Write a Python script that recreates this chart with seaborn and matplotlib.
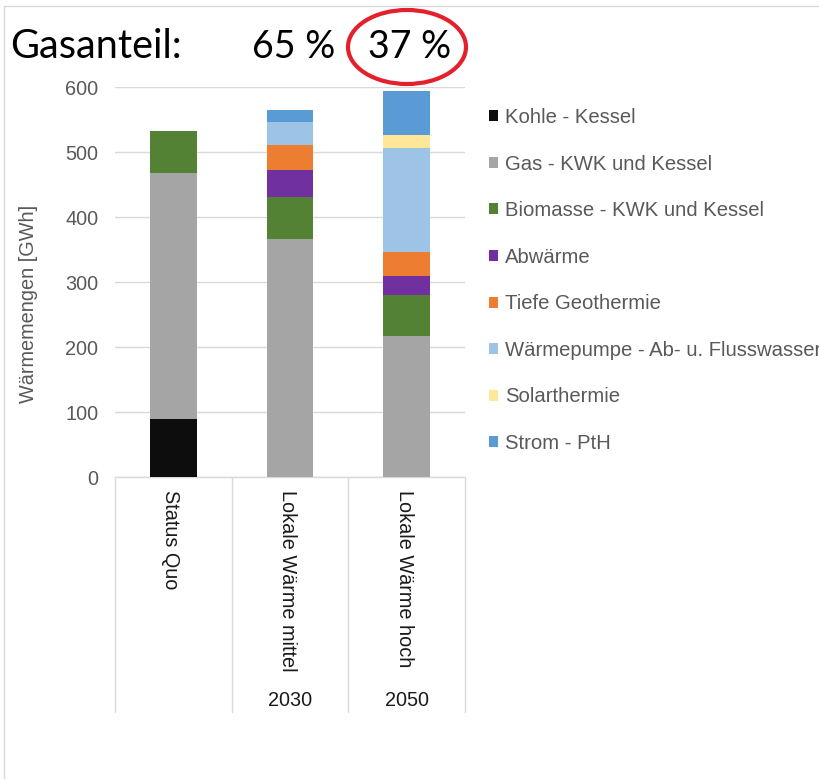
import matplotlib
matplotlib.use("Agg")
import matplotlib.pyplot as plt
import seaborn as sns
import pandas as pd
import numpy as np
from matplotlib.patches import Patch, Ellipse
from matplotlib.lines import Line2D
from matplotlib.transforms import blended_transform_factory

# ---------------- data ----------------
categories = ["Status Quo", "Lokale Wärme mittel", "Lokale Wärme hoch"]
years = ["", "2030", "2050"]
series_names = ["Kohle - Kessel", "Gas - KWK und Kessel", "Biomasse - KWK und Kessel",
                "Abwärme", "Tiefe Geothermie", "Wärmepumpe - Ab- u. Flusswasser",
                "Solarthermie", "Strom - PtH"]
kohle = [90, 0, 0]
gas = [378, 366, 217]
biomasse = [65, 66, 64]
abwaerme = [0, 41, 28]
geothermie = [0, 39, 37]
waermepumpe = [0, 35, 160]
solarthermie = [0, 0, 21]
strom = [0, 18, 67]
series_values = [kohle, gas, biomasse, abwaerme, geothermie, waermepumpe, solarthermie, strom]
colors = ["#0d0d0d", "#a5a5a5", "#548235", "#7030a0", "#ed7d31", "#9dc3e6", "#ffe699", "#5b9bd5"]
yticks = [0, 100, 200, 300, 400, 500, 600]
title_label = "Gasanteil:"
gas_share_labels = ["65 %", "37 %"]
ylabel = "Wärmemengen [GWh]"

# ---------------- figure ----------------
sns.set_style("white")
plt.rcParams["font.family"] = ["Liberation Sans", "DejaVu Sans"]
W, H = 820, 779
fig = plt.figure(figsize=(W / 100, H / 100), dpi=100)
fig.patch.set_facecolor("white")

y0_px, y600_px = 477.3, 87.3
left_px, right_px = 115, 465
ax = fig.add_axes([left_px / W, 1 - y0_px / H, (right_px - left_px) / W, (y0_px - y600_px) / H])

grid_c = "#d9d9d9"
text_c = "#595959"
fs = 14.3

df = pd.DataFrame({"Kategorie": categories})
bottom = np.zeros(len(categories))
for name, vals, col in zip(series_names, series_values, colors):
    df["val"] = vals
    sns.barplot(data=df, x="Kategorie", y="val", order=categories, color=col,
                width=0.4, bottom=bottom.copy(), linewidth=0, saturation=1, ax=ax, zorder=3)
    bottom += np.array(vals, dtype=float)

ax.set_xlim(-0.5, len(categories) - 0.5)
ax.set_ylim(0, 600)
ax.set_yticks(yticks)
ax.set_yticklabels([str(t) for t in yticks])
ax.tick_params(axis="y", length=0, pad=12, labelcolor=text_c, labelsize=fs)
ax.set_xticks([])
ax.set_xlabel("")
ax.set_ylabel("")
for s in ax.spines.values():
    s.set_visible(False)
ax.yaxis.grid(True, color=grid_c, linewidth=1, zorder=0)
ax.set_axisbelow(True)

trans = blended_transform_factory(ax.transData, ax.transAxes)
# bottom axis line and category separators
ax.plot([-0.5, len(categories) - 0.5], [0, 0], transform=trans, color=grid_c, lw=1, clip_on=False, zorder=2)
sep_bottom = -(712 - y0_px) / (y0_px - y600_px)
for xb in np.arange(-0.5, len(categories), 1.0):
    ax.plot([xb, xb], [0, sep_bottom], transform=trans, color=grid_c, lw=1, clip_on=False)

label_top = -(490 - y0_px) / (y0_px - y600_px)
year_y = -(700 - y0_px) / (y0_px - y600_px)
for i, (cat, yr) in enumerate(zip(categories, years)):
    ax.text(i - 0.02, label_top, cat, transform=trans, rotation=270, ha="center", va="top",
            fontsize=fs, color="#1a1a1a")
    if yr:
        ax.text(i, year_y, yr, transform=trans, ha="center", va="center",
                fontsize=fs, color="#1a1a1a")

fig.text(29 / W, 1 - 304 / H, ylabel, rotation=90, ha="center", va="center",
         fontsize=fs, color=text_c)

# legend
handles = [Patch(facecolor=c, edgecolor="none", label=n) for n, c in zip(series_names, colors)]
fig.legend(handles=handles, loc="upper left", bbox_to_anchor=(489 / W, 1 - 108 / H),
           frameon=False, fontsize=14.6, labelcolor=text_c, handlelength=0.45, handleheight=0.45,
           handletextpad=0.35, labelspacing=1.36, borderpad=0, borderaxespad=0)

# title texts
fig.text(10 / W, 1 - 47 / H, title_label, ha="left", va="center", fontsize=28.6,
         family=["Lato", "DejaVu Sans"], color="black")
fig.text(252 / W, 1 - 47 / H, gas_share_labels[0], ha="left", va="center", fontsize=27,
         family=["Lato", "DejaVu Sans"], color="black")
fig.text(368 / W, 1 - 47 / H, gas_share_labels[1], ha="left", va="center", fontsize=27,
         family=["Lato", "DejaVu Sans"], color="black")
ell = Ellipse((407 / W, 1 - 47 / H), 118 / W, 74 / H, transform=fig.transFigure,
              facecolor="none", edgecolor="#e3202c", lw=3)
fig.add_artist(ell)

# slide border
fig.add_artist(Line2D([4 / W, 1], [1 - 6 / H, 1 - 6 / H], transform=fig.transFigure, color=grid_c, lw=1))
fig.add_artist(Line2D([4 / W, 4 / W], [0, 1 - 6 / H], transform=fig.transFigure, color=grid_c, lw=1))

fig.savefig("out.png", dpi=100, facecolor="white")
